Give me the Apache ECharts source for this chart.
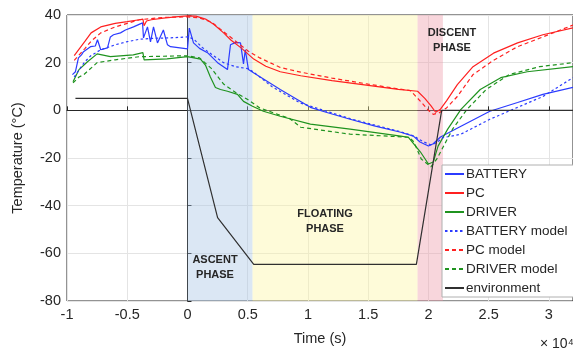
<!DOCTYPE html>
<html>
<head>
<meta charset="utf-8">
<script src="https://cdn.jsdelivr.net/npm/echarts@6/dist/echarts.min.js"></script>
<style>
  html, body { margin: 0; padding: 0; background: #fff; }
  #chart { width: 573px; height: 351px; }
</style>
</head>
<body>
<div id="chart"></div>
<script>
// time in units of 1e4 s, temperature in degC
const batteryX = [-0.955, -0.93, -0.905, -0.88, -0.863, -0.805, -0.765, -0.747, -0.72, -0.664, -0.64, -0.614, -0.556, -0.515, -0.448, -0.373, -0.365, -0.332, -0.307, -0.282, -0.249, -0.2, -0.166, -0.141, 0, 0.015, 0.025, 0.05, 0.1, 0.166, 0.25, 0.332, 0.357, 0.4, 0.44, 0.465, 0.48, 0.506, 0.548, 0.77, 1.02, 1.15, 1.35, 1.55, 1.77, 1.875, 1.93, 2.0, 2.04, 2.1, 2.27, 2.51, 2.74, 2.95, 3.2];
const batteryY = [15, 16.2, 22, 23.3, 24.6, 26.7, 27, 29.6, 25.4, 26.2, 30.8, 31.7, 32.5, 33.7, 35, 36.7, 30.4, 35, 28.7, 35, 28.3, 33.7, 27.5, 26.7, 25.8, 34.5, 33.7, 28.3, 26, 24.2, 20, 17.1, 27.5, 28.5, 28.3, 19.5, 25.4, 17.1, 15.8, 8.75, 1.25, -0.8, -3.75, -6.5, -9.2, -10.8, -13.3, -15, -14, -11.2, -6.7, -0.4, 3.3, 6.7, 9.6];

const pcX = [-0.94, -0.85, -0.8, -0.72, -0.6, -0.5, -0.4, -0.37, -0.36, -0.34, -0.3, -0.2, -0.1, 0, 0.07, 0.15, 0.22, 0.3, 0.36, 0.45, 0.55, 0.65, 0.77, 0.94, 1.2, 1.5, 1.75, 1.91, 1.97, 2.02, 2.06, 2.1, 2.15, 2.24, 2.37, 2.54, 2.74, 2.95, 3.2];
const pcY = [23, 29, 32.5, 35, 36.5, 37.2, 38, 38.3, 35.5, 37.5, 38, 38.7, 39.2, 39.6, 39.5, 38.3, 36, 32.5, 29.5, 26, 21.5, 18.5, 16.2, 14.5, 12.5, 10.5, 8.8, 8, 5, 2, -0.8, 0.5, 4, 10.8, 18.3, 24, 28.3, 31.7, 34.6];

const driverX = [-0.95, -0.9, -0.83, -0.75, -0.64, -0.45, -0.37, -0.36, -0.17, 0, 0.108, 0.149, 0.19, 0.232, 0.274, 0.332, 0.415, 0.465, 0.54, 0.63, 0.77, 1.02, 1.35, 1.77, 1.834, 1.934, 2.0, 2.04, 2.08, 2.16, 2.27, 2.43, 2.6, 2.82, 3.2];
const driverY = [12, 17.1, 20.4, 23.7, 22.5, 23.3, 24.2, 21.2, 21.6, 22.5, 21.5, 19, 14, 9.6, 8.75, 8, 6.7, 3.75, 1.7, -0.4, -2.5, -5.8, -7.9, -10.8, -11.3, -17.5, -22.5, -21.7, -15, -7.9, 0.4, 8.75, 13.7, 16.2, 18.3];

const batteryModelX = [-0.94, -0.9, -0.85, -0.8, -0.72, -0.6, -0.5, -0.4, -0.3, -0.15, 0, 0.05, 0.12, 0.2, 0.3, 0.4, 0.5, 0.55, 0.7, 0.94, 1.35, 1.77, 1.88, 1.95, 2.02, 2.07, 2.12, 2.27, 2.51, 2.74, 2.95, 3.2];
const batteryModelY = [14, 17, 20.5, 23, 25.4, 27.5, 28.8, 29.8, 30.2, 30.4, 30.8, 30, 26.5, 23.5, 20, 18.3, 17.5, 16, 10, 3, -3.5, -9, -10.8, -13, -14.5, -13.5, -11.5, -10, -3.75, 1.25, 5.8, 13.7];

const pcModelX = [-0.94, -0.85, -0.8, -0.72, -0.6, -0.5, -0.4, -0.3, -0.2, 0, 0.1, 0.2, 0.3, 0.4, 0.5, 0.6, 0.77, 0.94, 1.2, 1.5, 1.75, 1.85, 1.93, 2.0, 2.04, 2.09, 2.15, 2.24, 2.37, 2.54, 2.74, 2.95, 3.2];
const pcModelY = [21, 26, 29, 32.5, 35, 36.5, 38, 38.5, 39, 39.2, 38.8, 37, 33, 29, 25, 22, 18, 16, 13.5, 11, 9, 8.3, 4, 0, -1.7, -1, 1, 5.8, 15, 21, 26.7, 30.8, 35.8];

const driverModelX = [-0.95, -0.9, -0.86, -0.75, -0.6, -0.4, -0.2, 0, 0.1, 0.2, 0.3, 0.4, 0.5, 0.6, 0.85, 0.94, 1.35, 1.84, 1.88, 1.94, 2.02, 2.07, 2.2, 2.32, 2.48, 2.67, 2.92, 3.2];
const driverModelY = [11.5, 14, 15, 20, 21.2, 22.5, 22.7, 22.9, 22, 17.5, 11, 7.5, 4.5, 1, -3.5, -7.1, -10, -11.3, -13.3, -20.4, -23.7, -20.4, -7.9, 0.4, 8.75, 15, 18.3, 20];

const envX = [-0.93, 0, 0.25, 0.55, 1.9, 2.11, 3.2];
const envY = [5, 5, -45, -64.6, -64.6, 0, 0];

// phase boundaries
const phaseStart = [0, 0.54, 1.91];
const phaseEnd = [0.54, 1.91, 2.12];
const phaseColors = ['rgba(165,195,228,0.4)', 'rgba(252,246,160,0.4)', 'rgba(238,153,168,0.4)'];

const legendNames = ['BATTERY', 'PC', 'DRIVER', 'BATTERY model', 'PC model', 'DRIVER model', 'environment'];

const pairs = (xs, ys) => xs.map((x, i) => [x, ys[i]]);

const chart = echarts.init(document.getElementById('chart'));
const font = 'Liberation Sans, Arial, sans-serif';
const ink = '#262626';

function line(name, xs, ys, color, type) {
  return {
    name: name,
    type: 'line',
    symbol: 'none',
    smooth: false,
    data: pairs(xs, ys),
    lineStyle: { color: color, width: 1.2, type: type || 'solid' },
    itemStyle: { color: color },
    z: 3
  };
}

const phaseText = { fill: ink, font: 'bold 11px ' + font, align: 'center', verticalAlign: 'middle', lineHeight: 15 };

chart.setOption({
  animation: false,
  textStyle: { fontFamily: font },
  grid: {
    left: 67, right: 0, top: 15, bottom: 48,
    show: true, borderColor: ink, borderWidth: 1
  },
  legend: {
    data: legendNames,
    orient: 'vertical',
    left: 442, top: 165,
    itemGap: 5, itemWidth: 19, itemHeight: 14,
    padding: [2, 8, 2, 2],
    backgroundColor: '#fff',
    borderColor: '#b0b0b0', borderWidth: 1, borderRadius: 0,
    itemStyle: { color: 'rgba(0,0,0,0)', borderWidth: 0, opacity: 0 },
    textStyle: { fontSize: 13.5, color: ink, fontFamily: font, padding: [0, 0, 0, -3] }
  },
  xAxis: {
    type: 'value', min: -1, max: 3.2, interval: 0.5,
    name: 'Time (s)', nameLocation: 'middle', nameGap: 30,
    nameTextStyle: { fontSize: 14.5, color: ink },
    axisLine: { lineStyle: { color: ink } },
    axisTick: { inside: true, length: 4, lineStyle: { color: ink } },
    axisLabel: { fontSize: 14.5, color: ink, margin: 6, showMaxLabel: false },
    splitLine: { show: true, lineStyle: { color: '#e4e4e4' } }
  },
  yAxis: {
    type: 'value', min: -80, max: 40, interval: 20,
    name: 'Temperature (°C)', nameLocation: 'middle', nameGap: 42,
    nameTextStyle: { fontSize: 14.5, color: ink },
    axisLine: { show: true, lineStyle: { color: ink } },
    axisTick: { show: true, inside: true, length: 4, lineStyle: { color: ink } },
    axisLabel: { fontSize: 14.5, color: ink, margin: 6 },
    splitLine: { show: true, lineStyle: { color: '#e4e4e4' } }
  },
  graphic: [
    { type: 'text', z: 100, left: 540, top: 337, style: { text: '× 10⁴', fill: ink, font: '14px ' + font } },
    { type: 'text', z: 100, x: 215, y: 267, style: Object.assign({ text: 'ASCENT\nPHASE' }, phaseText) },
    { type: 'text', z: 100, x: 325, y: 221, style: Object.assign({ text: 'FLOATING\nPHASE' }, phaseText) },
    { type: 'text', z: 100, x: 452, y: 40, style: Object.assign({ text: 'DISCENT\nPHASE' }, phaseText) }
  ],
  series: [
    {
      name: 'phases', type: 'line', data: [], z: 1, silent: true,
      markArea: {
        silent: true,
        data: phaseStart.map((s, i) => [
          { xAxis: s, itemStyle: { color: phaseColors[i] } },
          { xAxis: phaseEnd[i] }
        ])
      }
    },
    line('BATTERY', batteryX, batteryY, '#2b3bff'),
    line('PC', pcX, pcY, '#ff2020'),
    line('DRIVER', driverX, driverY, '#1f931f'),
    line('BATTERY model', batteryModelX, batteryModelY, '#2b3bff', [2.5, 2.5]),
    line('PC model', pcModelX, pcModelY, '#ff2020', [4, 3]),
    line('DRIVER model', driverModelX, driverModelY, '#1f931f', [4, 3]),
    line('environment', envX, envY, '#303030')
  ]
});
window.addEventListener('resize', () => chart.resize());
</script>
</body>
</html>
